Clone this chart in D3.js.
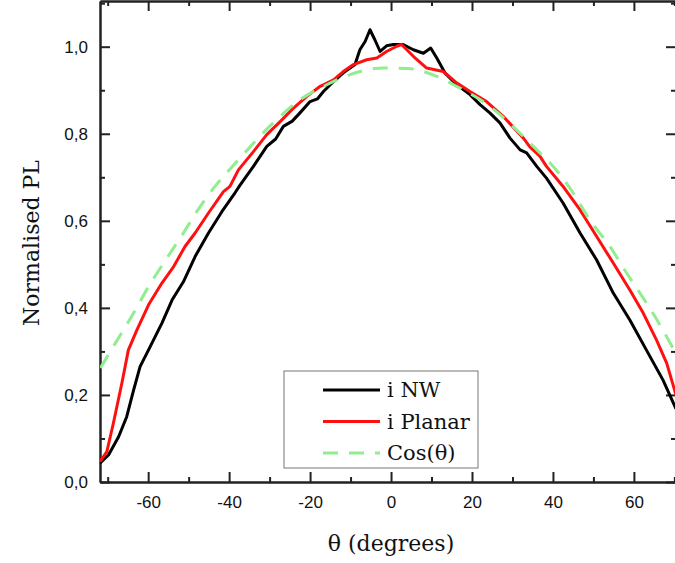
<!DOCTYPE html>
<html>
<head>
<meta charset="utf-8">
<script src="https://cdn.jsdelivr.net/npm/d3@7"></script>
<style>
  body { margin: 0; background: #fff; }
  svg { display: block; }
  .tick text { font-family: "Liberation Sans", Arial, sans-serif; font-size: 17px; fill: #111; }
  .axis path, .axis line { stroke: #222; stroke-width: 2; }
</style>
</head>
<body>
<div id="chart"></div>
<script>
var nwTheta = [-71.9, -69.8, -67.3, -65.3, -63.6, -62.0, -59.5, -56.6, -54.1, -51.3, -48.4, -45.1, -41.8, -38.5, -37.3,
  -34.0, -30.7, -28.5, -26.6, -24.4, -22.5, -20.0, -18.2, -16.7, -14.2, -11.8, -8.9, -7.7, -6.4, -5.2, -4.0, -2.7, -1.1, 0.6, 3.0, 5.5,
  8.0, 9.8, 11.3, 13.3, 16.2, 19.5, 22.0, 24.4, 26.9, 29.4, 31.9, 33.5, 36.0, 38.4, 42.5, 46.7, 50.8, 54.9, 59.0,
  63.1, 67.2, 70.4];
var nwValue = [0.043, 0.062, 0.104, 0.150, 0.211, 0.265, 0.311, 0.365, 0.418, 0.460, 0.518, 0.572, 0.621, 0.665, 0.682,
  0.725, 0.771, 0.788, 0.817, 0.829, 0.848, 0.874, 0.880, 0.897, 0.920, 0.940, 0.959, 0.993, 1.012, 1.039, 1.016, 0.989, 1.002, 1.005, 1.005, 0.993,
  0.985, 0.997, 0.974, 0.940, 0.913, 0.890, 0.867, 0.848, 0.825, 0.790, 0.763, 0.756, 0.725, 0.698, 0.641, 0.572, 0.510, 0.434, 0.372,
  0.303, 0.234, 0.168];

var planarTheta = [-71.9, -70.2, -68.6, -66.5, -64.9, -62.8, -59.9, -56.6, -53.7, -50.9, -48.4, -45.1, -41.4, -39.8, -37.7,
  -34.0, -30.7, -27.4, -24.1, -20.8, -17.5, -14.2, -11.8, -9.3, -6.0, -3.5, -1.1, 1.4, 2.6, 5.5, 8.8, 12.9, 16.2,
  19.5, 23.6, 27.7, 32.7, 34.3, 36.8, 38.4, 42.5, 46.7, 50.8, 54.9, 59.0, 62.3, 65.6, 68.1, 70.4];
var planarValue = [0.047, 0.070, 0.135, 0.227, 0.303, 0.349, 0.407, 0.457, 0.495, 0.541, 0.572, 0.618, 0.667, 0.679, 0.717,
  0.759, 0.798, 0.828, 0.859, 0.886, 0.909, 0.924, 0.943, 0.959, 0.970, 0.974, 0.989, 1.001, 1.005, 0.978, 0.951, 0.943, 0.917,
  0.897, 0.874, 0.840, 0.790, 0.770, 0.748, 0.725, 0.679, 0.625, 0.564, 0.503, 0.441, 0.388, 0.326, 0.273, 0.200];

var cosTheta = [-71.8, -68.1, -63.6, -59.9, -55.4, -51.3, -48.0, -43.5, -38.1, -29.1, -22.5, -16.0, -10.1, -1.9,
  4.0, 11.3, 16.2, 24.4, 31.0, 36.8, 39.3, 45.0, 49.1, 54.1, 58.2, 61.5, 65.2, 70.4];
var cosValue = [0.262, 0.319, 0.388, 0.449, 0.514, 0.572, 0.621, 0.679, 0.736, 0.825, 0.878, 0.912, 0.936, 0.951,
  0.950, 0.932, 0.909, 0.863, 0.809, 0.756, 0.733, 0.664, 0.602, 0.541, 0.480, 0.434, 0.380, 0.295];

var seriesNames = ["i NW", "i Planar", "Cos(\u03b8)"];
var xMajorTicks = [-60, -40, -20, 0, 20, 40, 60];
var xMinorTicks = [-70, -50, -30, -10, 10, 30, 50, 70];
var yMajorTicks = [0, 0.2, 0.4, 0.6, 0.8, 1.0];
var yMinorTicks = [0.1, 0.3, 0.5, 0.7, 0.9, 1.1];

var svgWidth = 675, svgHeight = 563;
var margin = { top: 1, right: -1, bottom: 81, left: 100 };
var width = svgWidth - margin.left - margin.right;
var height = svgHeight - margin.top - margin.bottom;

var svg = d3.select("#chart").append("svg")
  .attr("width", svgWidth)
  .attr("height", svgHeight);

var chartGroup = svg.append("g")
  .attr("transform", `translate(${margin.left}, ${margin.top})`);

var xScale = d3.scaleLinear().domain([-71.9, 70.4]).range([0, width]);
var yScale = d3.scaleLinear().domain([0, 1.105]).range([height, 0]);

var fmtY = d => d3.format(".1f")(d).replace(".", ",");
var fmtX = d => String(d);

// axes, ticks inside
chartGroup.append("g").attr("class", "axis")
  .attr("transform", `translate(0, ${height})`)
  .call(d3.axisBottom(xScale).tickValues(xMajorTicks).tickSizeInner(-10).tickSizeOuter(0).tickPadding(14).tickFormat(fmtX));
chartGroup.append("g").attr("class", "axis")
  .attr("transform", `translate(0, ${height})`)
  .call(d3.axisBottom(xScale).tickValues(xMinorTicks).tickSizeInner(-5).tickSizeOuter(0).tickFormat(""));
chartGroup.append("g").attr("class", "axis")
  .call(d3.axisTop(xScale).tickValues(xMajorTicks).tickSizeInner(-10).tickSizeOuter(0).tickFormat(""));
chartGroup.append("g").attr("class", "axis")
  .call(d3.axisTop(xScale).tickValues(xMinorTicks).tickSizeInner(-5).tickSizeOuter(0).tickFormat(""));

chartGroup.append("g").attr("class", "axis")
  .call(d3.axisLeft(yScale).tickValues(yMajorTicks).tickSizeInner(-10).tickSizeOuter(0).tickPadding(12).tickFormat(fmtY));
chartGroup.append("g").attr("class", "axis")
  .call(d3.axisLeft(yScale).tickValues(yMinorTicks).tickSizeInner(-5).tickSizeOuter(0).tickFormat(""));
chartGroup.append("g").attr("class", "axis")
  .attr("transform", `translate(${width}, 0)`)
  .call(d3.axisRight(yScale).tickValues(yMajorTicks).tickSizeInner(-10).tickSizeOuter(0).tickFormat(""));
chartGroup.append("g").attr("class", "axis")
  .attr("transform", `translate(${width}, 0)`)
  .call(d3.axisRight(yScale).tickValues(yMinorTicks).tickSizeInner(-5).tickSizeOuter(0).tickFormat(""));

chartGroup.append("clipPath").attr("id", "plotClip")
  .append("rect").attr("width", width).attr("height", height);

var line = d3.line()
  .x(d => xScale(d[0]))
  .y(d => yScale(d[1]));

var lines = [
  { pts: d3.zip(nwTheta, nwValue), color: "#000000", dash: null, curve: d3.curveLinear },
  { pts: d3.zip(planarTheta, planarValue), color: "#ff1010", dash: null, curve: d3.curveLinear },
  { pts: d3.zip(cosTheta, cosValue), color: "#90ee90", dash: "15,11", curve: d3.curveMonotoneX }
];

lines.forEach(function(s) {
  chartGroup.append("path")
    .attr("clip-path", "url(#plotClip)")
    .attr("d", line.curve(s.curve)(s.pts))
    .attr("fill", "none")
    .attr("stroke", s.color)
    .attr("stroke-width", 3)
    .attr("stroke-linejoin", "round")
    .attr("stroke-dasharray", s.dash);
});

// legend
var legend = svg.append("g").attr("transform", "translate(284, 371)");
legend.append("rect")
  .attr("width", 194).attr("height", 97)
  .attr("fill", "#fff").attr("stroke", "#777").attr("stroke-width", 1);
lines.forEach(function(s, i) {
  var ly = 19 + i * 31.5;
  legend.append("line")
    .attr("x1", 39).attr("x2", 96).attr("y1", ly).attr("y2", ly)
    .attr("stroke", s.color).attr("stroke-width", 3)
    .attr("stroke-dasharray", s.dash);
  legend.append("text")
    .attr("x", 103).attr("y", ly + 7)
    .attr("font-family", "DejaVu Serif, serif")
    .attr("font-size", 21)
    .attr("fill", "#111")
    .text(seriesNames[i]);
});

// axis titles
svg.append("text")
  .attr("x", 391).attr("y", 551)
  .attr("text-anchor", "middle")
  .attr("font-family", "DejaVu Serif, serif")
  .attr("font-size", 22)
  .attr("fill", "#111")
  .text("\u03b8 (degrees)");

svg.append("text")
  .attr("transform", "translate(39, 243) rotate(-90)")
  .attr("text-anchor", "middle")
  .attr("font-family", "DejaVu Serif, serif")
  .attr("font-size", 22)
  .attr("fill", "#111")
  .text("Normalised PL");
</script>
</body>
</html>
